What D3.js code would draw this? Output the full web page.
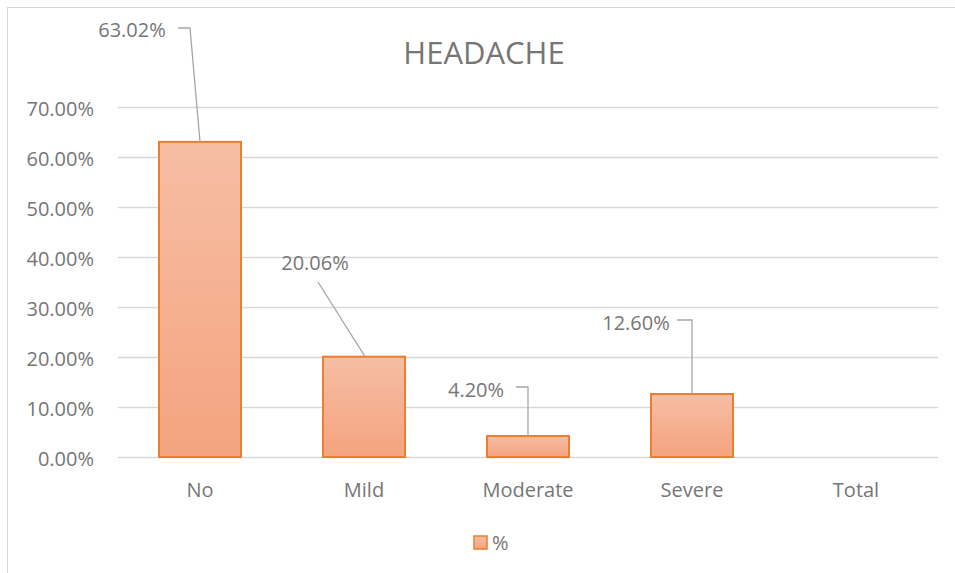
<!DOCTYPE html>
<html>
<head>
<meta charset="utf-8">
<script src="https://cdn.jsdelivr.net/npm/d3@7"></script>
<style>
  body { margin: 0; background: #fff; }
  svg { font-family: "Open Sans", "Noto Sans", sans-serif; }
</style>
</head>
<body>
<svg id="chart"></svg>
<script>
// Data
let categories = ["No", "Mild", "Moderate", "Severe", "Total"];
let values = [63.02, 20.06, 4.20, 12.60, null];
let labelText = ["63.02%", "20.06%", "4.20%", "12.60%", null];
let yTicks = [0, 10, 20, 30, 40, 50, 60, 70];
let seriesName = "%";

// hand-placed data labels: text centre offset from bar centre, baseline y, leader kind
let labelPos = [
  { dx: -68, base: 37, hook: -22, hy: 28, kind: "slant" },
  { dx: -49, base: 270, sx: -46, sy: 282, kind: "line" },
  { dx: -52, base: 397, hook: -12, hy: 387, kind: "hook" },
  { dx: -56, base: 330, hook: -15, hy: 320, kind: "hook" },
];

let margin = { top: 107, left: 118, right: 17, bottom: 116 };
let W = 955, H = 573;
let width = W - margin.left - margin.right,
  height = H - margin.top - margin.bottom;
let textColor = "#767676";

let svg = d3.select("#chart").attr("width", W).attr("height", H);

// chart border
svg.append("rect")
  .attr("x", 7.5).attr("y", 7.5)
  .attr("width", 960).attr("height", 600)
  .attr("fill", "none")
  .attr("stroke", "#d9d9d9");

let defs = svg.append("defs");
let grad = defs.append("linearGradient")
  .attr("id", "barGrad")
  .attr("x1", 0).attr("y1", 0).attr("x2", 0).attr("y2", 1);
grad.append("stop").attr("offset", "0%").attr("stop-color", "#f6bea4");
grad.append("stop").attr("offset", "100%").attr("stop-color", "#f4a37f");

let g = svg.append("g")
  .attr("transform", `translate(${margin.left},${margin.top})`);

let x = d3.scaleBand().domain(categories).range([0, width]).paddingInner(0.5).paddingOuter(0.25);
let y = d3.scaleLinear().domain([0, 70]).range([height, 0]);

// gridlines
g.append("g")
  .selectAll("line")
  .data(yTicks)
  .enter()
  .append("line")
  .attr("x1", 0).attr("x2", width)
  .attr("y1", (d) => Math.round(y(d)) + 0.5)
  .attr("y2", (d) => Math.round(y(d)) + 0.5)
  .attr("stroke", "#d9d9d9")
  .attr("stroke-width", 1.5);

// y tick labels
g.append("g")
  .selectAll("text")
  .data(yTicks)
  .enter()
  .append("text")
  .attr("x", -24)
  .attr("y", (d) => y(d) + 9)
  .attr("text-anchor", "end")
  .style("font-size", "20px")
  .attr("fill", textColor)
  .text((d) => d.toFixed(2) + "%");

// bars
let barData = categories.map((c, i) => ({ cat: c, v: values[i], label: labelText[i], i: i }))
  .filter((d) => d.v != null);

g.append("g")
  .selectAll("rect")
  .data(barData)
  .enter()
  .append("rect")
  .attr("x", (d) => x(d.cat))
  .attr("y", (d) => y(d.v))
  .attr("width", x.bandwidth())
  .attr("height", (d) => height - y(d.v))
  .attr("fill", "url(#barGrad)")
  .attr("stroke", "#ed7d31")
  .attr("stroke-width", 2);

// x labels
g.append("g")
  .selectAll("text")
  .data(categories)
  .enter()
  .append("text")
  .attr("x", (d) => x(d) + x.bandwidth() / 2)
  .attr("y", height + 40)
  .attr("text-anchor", "middle")
  .style("font-size", "20px")
  .attr("fill", textColor)
  .text((d) => d);

// data labels with leader lines
let labels = svg.append("g").selectAll("g").data(barData).enter().append("g");

labels.append("path")
  .attr("fill", "none")
  .attr("stroke", "#a6a6a6")
  .attr("stroke-width", 1.3)
  .attr("d", (d) => {
    let p = labelPos[d.i];
    let cx = margin.left + x(d.cat) + x.bandwidth() / 2;
    let top = margin.top + y(d.v);
    if (p.kind === "line") {
      return `M${cx + p.sx},${p.sy} L${cx + 1},${top}`;
    }
    if (p.kind === "slant") {
      return `M${cx + p.hook},${p.hy} L${cx - 10},${p.hy} L${cx},${top}`;
    }
    return `M${cx + p.hook},${p.hy} L${cx},${p.hy} L${cx},${top}`;
  });

labels.append("text")
  .attr("x", (d) => margin.left + x(d.cat) + x.bandwidth() / 2 + labelPos[d.i].dx)
  .attr("y", (d) => labelPos[d.i].base)
  .attr("text-anchor", "middle")
  .style("font-size", "20px")
  .attr("fill", textColor)
  .text((d) => d.label);

// title
svg.append("text")
  .attr("x", 484)
  .attr("y", 64)
  .attr("text-anchor", "middle")
  .style("font-size", "31px")
  .attr("fill", textColor)
  .text("HEADACHE");

// legend
let legend = svg.append("g").attr("transform", "translate(474,536)");
legend.append("rect")
  .attr("width", 13).attr("height", 13)
  .attr("fill", "url(#barGrad)")
  .attr("stroke", "#ed7d31")
  .attr("stroke-width", 1.5);
legend.append("text")
  .attr("x", 18).attr("y", 14)
  .style("font-size", "20px")
  .attr("fill", textColor)
  .text(seriesName);
</script>
</body>
</html>
